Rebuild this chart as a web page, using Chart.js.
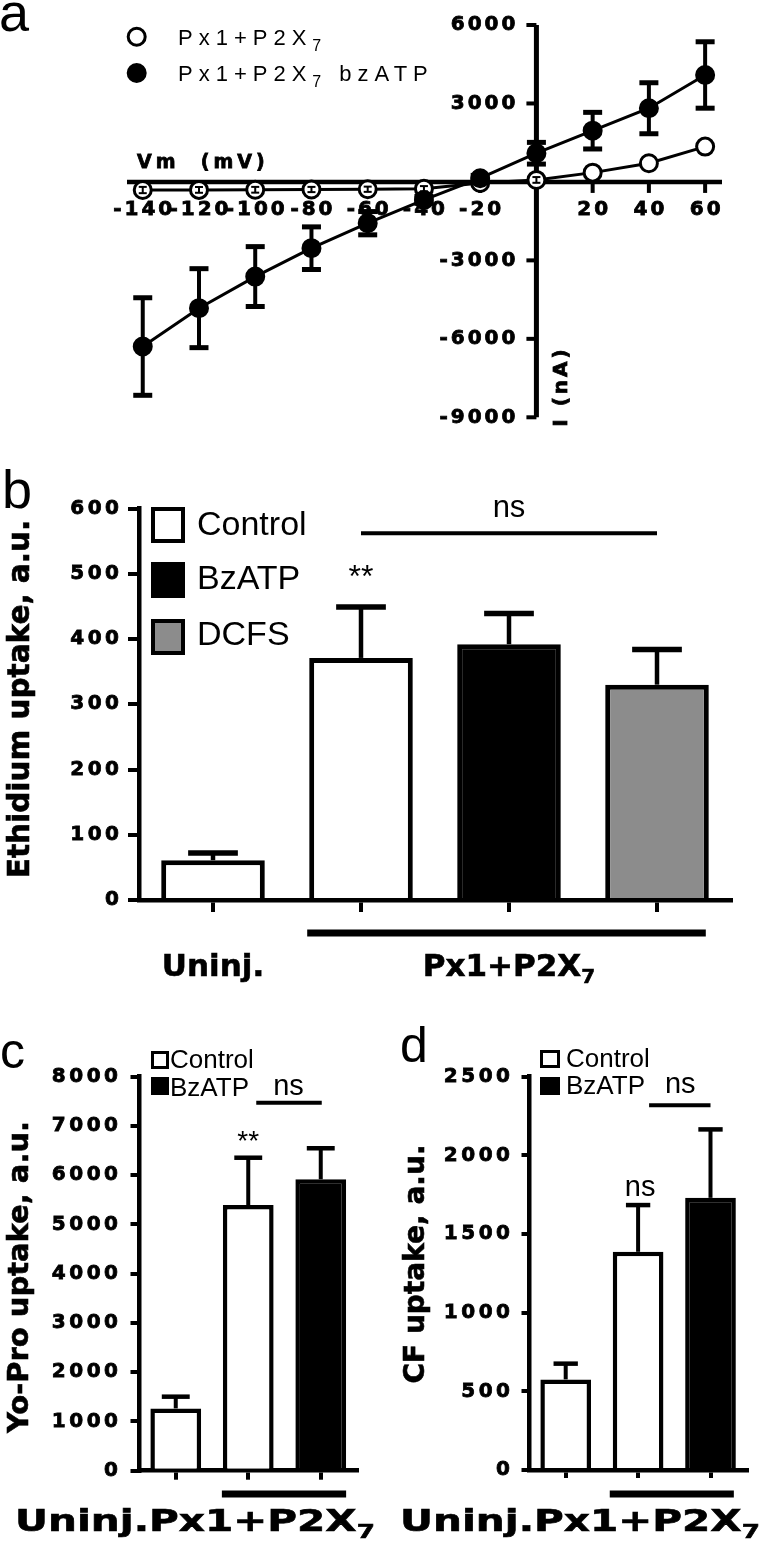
<!DOCTYPE html>
<html>
<head>
<meta charset="utf-8">
<script src="https://cdn.jsdelivr.net/npm/chart.js@4.4.1/dist/chart.umd.min.js"></script>
<style>
html,body{margin:0;padding:0;background:#fff;}
#wrap{position:relative;width:760px;height:1552px;overflow:hidden;background:#fff;}
#wrap canvas{position:absolute;left:0;top:0;width:760px;height:1552px;}
</style>
</head>
<body>
<div id="wrap">
<canvas id="cA" width="760" height="1552"></canvas>
<canvas id="cB" width="760" height="1552"></canvas>
<canvas id="cC" width="760" height="1552"></canvas>
<canvas id="cD" width="760" height="1552"></canvas>
</div>
<script>
// ---------------- Panel a : I-V curves ----------------
const ivVoltage = [-140, -120, -100, -80, -60, -40, -20, 0, 20, 40, 60];
const ivCurrentPx1P2X7 = [-310, -305, -300, -290, -280, -260, -40, 76, 355, 715, 1350];
const ivErrPx1P2X7 = [120, 110, 110, 100, 100, 100, 90, 110, 0, 0, 0];
const ivCurrentBzATP = [-6294, -4827, -3619, -2534, -1578, -688, 141, 1097, 1960, 2817, 4089];
const ivErrBzATP = [1865, 1510, 1145, 815, 445, 130, 110, 415, 700, 975, 1270];
const ivXTickLabels = [-140, -120, -100, -80, -60, -40, -20, 20, 40, 60];
const ivYTickLabels = [6000, 3000, -3000, -6000, -9000];

// ---------------- Panel b : Ethidium uptake ----------------
const ethCategories = ['Uninj.', 'Control', 'BzATP', 'DCFS'];
const ethUptake = [61, 371, 392, 330];
const ethErr = [11, 78, 47, 54];

// ---------------- Panel c : Yo-Pro uptake ----------------
const yoCategories = ['Uninj.', 'Control', 'BzATP'];
const yoUptake = [1265, 5395, 5917];
const yoErr = [238, 960, 630];

// ---------------- Panel d : CF uptake ----------------
const cfCategories = ['Uninj.', 'Control', 'BzATP'];
const cfUptake = [576, 1387, 1730];
const cfErr = [100, 297, 435];

const DJ = '"DejaVu Sans", sans-serif';
const LS = '"Liberation Sans", Arial, sans-serif';
const B20 = 'bold 20px ' + DJ;

// ---------- helpers ----------
function seg(ctx, x1, y1, x2, y2, w) {
  ctx.save();
  ctx.lineWidth = w; ctx.strokeStyle = '#000'; ctx.lineCap = 'butt';
  ctx.beginPath(); ctx.moveTo(x1, y1); ctx.lineTo(x2, y2); ctx.stroke();
  ctx.restore();
}
function txt(ctx, s, x, y, o) {
  o = o || {};
  const sp = o.sp || 0, sx = o.sx || 1;
  ctx.save();
  ctx.font = o.font || ('20px ' + LS);
  ctx.letterSpacing = sp + 'px';
  ctx.fillStyle = o.color || '#000';
  ctx.textBaseline = o.base || 'alphabetic';
  ctx.textAlign = 'left';
  ctx.translate(x, y);
  if (o.rot) ctx.rotate(o.rot);
  ctx.scale(sx, 1);
  const w = ctx.measureText(s).width - sp;
  let dx = 0;
  if (o.align === 'center') dx = -w / 2;
  else if (o.align === 'right') dx = -w;
  ctx.fillText(s, dx, 0);
  if (o.stroke) { ctx.lineWidth = o.stroke; ctx.strokeStyle = '#000'; ctx.strokeText(s, dx, 0); }
  ctx.restore();
  return w * sx;
}
function richText(ctx, parts, x, y, o) {
  o = o || {};
  const sp = o.sp || 0, sx = o.sx || 1;
  ctx.save();
  ctx.letterSpacing = sp + 'px';
  const widths = parts.map(p => { ctx.font = p.font; return ctx.measureText(p.s).width * sx; });
  ctx.restore();
  const total = widths.reduce((a, b) => a + b, 0);
  let cx = o.align === 'center' ? x - total / 2 : x;
  parts.forEach((p, i) => {
    txt(ctx, p.s, cx, y + (p.dy || 0), { font: p.font, sp: sp, sx: sx, stroke: o.stroke });
    cx += widths[i];
  });
}
function box(ctx, x, y, w, h, fill, lw) {
  ctx.save();
  ctx.fillStyle = fill; ctx.strokeStyle = '#000'; ctx.lineWidth = lw;
  ctx.fillRect(x + lw / 2, y + lw / 2, w - lw, h - lw);
  ctx.strokeRect(x + lw / 2, y + lw / 2, w - lw, h - lw);
  ctx.restore();
}
function circle(ctx, x, y, r, fill) {
  ctx.save();
  ctx.beginPath(); ctx.arc(x, y, r, 0, Math.PI * 2);
  ctx.fillStyle = fill; ctx.fill();
  ctx.lineWidth = 3; ctx.strokeStyle = '#000'; ctx.stroke();
  ctx.restore();
}
function errorBars(ctx, meta, yScale, vals, errs, capRatio, stemW, capW) {
  meta.data.forEach((el, i) => {
    const top = yScale.getPixelForValue(vals[i] + errs[i]);
    const half = el.width * capRatio / 2;
    seg(ctx, el.x, el.y, el.x, top, stemW);
    seg(ctx, el.x - half, top, el.x + half, top, capW);
  });
}
const spacing = s => ({ id: 'tickSpacing', beforeDraw(chart) { chart.ctx.letterSpacing = s + 'px'; } });

// ---------- Panel a ----------
const ivDecor = {
  id: 'ivDecor',
  beforeDatasetsDraw(chart) {
    const { ctx, scales: { x, y } } = chart;
    const x0 = x.getPixelForValue(0), y0 = y.getPixelForValue(0);
    seg(ctx, x.left, y0, x.right, y0, 4.5);
    seg(ctx, x0, y.top, x0, y.bottom, 5);
    ivXTickLabels.forEach(v => {
      const px = x.getPixelForValue(v);
      seg(ctx, px, y0, px, y0 + 11, 4);
      txt(ctx, String(v), px, y0 + 33, { font: B20, sp: 3, align: 'center', stroke: 0.8 });
    });
    ivYTickLabels.forEach(v => {
      const py = y.getPixelForValue(v);
      seg(ctx, x0 - 10, py, x0, py, 4);
      txt(ctx, String(v), x0 - 21, py, { font: B20, sp: 3, align: 'right', base: 'middle', stroke: 0.8 });
    });
    txt(ctx, 'Vm  (mV)', x.left + 10, y0 - 14, { font: 'bold 19px ' + DJ, sp: 4, stroke: 0.8 });
    txt(ctx, 'I (nA)', x0 + 31, 388, { font: B20, sp: 3, align: 'center', rot: -Math.PI / 2, stroke: 0.8 });
    // error bars of the bzATP series (behind points)
    ivVoltage.forEach((v, i) => {
      const px = x.getPixelForValue(v);
      const hi = y.getPixelForValue(ivCurrentBzATP[i] + ivErrBzATP[i]);
      const lo = y.getPixelForValue(ivCurrentBzATP[i] - ivErrBzATP[i]);
      seg(ctx, px, hi, px, lo, 4);
      seg(ctx, px - 9.5, hi, px + 9.5, hi, 5);
      seg(ctx, px - 9.5, lo, px + 9.5, lo, 5);
    });
  },
  afterDatasetsDraw(chart) {
    const { ctx, scales: { x, y } } = chart;
    ivVoltage.forEach((v, i) => {
      if (!ivErrPx1P2X7[i]) return;
      const px = x.getPixelForValue(v);
      const hi = y.getPixelForValue(ivCurrentPx1P2X7[i] + ivErrPx1P2X7[i]);
      const lo = y.getPixelForValue(ivCurrentPx1P2X7[i] - ivErrPx1P2X7[i]);
      seg(ctx, px, hi, px, lo, 2);
      seg(ctx, px - 4, hi, px + 4, hi, 2);
      seg(ctx, px - 4, lo, px + 4, lo, 2);
    });
    // legend
    circle(ctx, 136.7, 36.7, 8.5, '#fff');
    circle(ctx, 136.7, 73, 8.5, '#000');
    const f22 = '22px ' + LS, f16 = '16px ' + LS;
    richText(ctx, [{ s: 'Px1+P2X', font: f22 }, { s: '7', font: f16, dy: 6 }], 178, 45, { sp: 6 });
    richText(ctx, [{ s: 'Px1+P2X', font: f22 }, { s: '7', font: f16, dy: 6 }, { s: ' bzATP', font: f22 }], 178, 81.3, { sp: 6 });
    txt(ctx, 'a', -1, 31, { font: '54px ' + LS });
  }
};
new Chart(document.getElementById('cA'), {
  type: 'line',
  data: {
    datasets: [
      { label: 'Px1+P2X7', data: ivVoltage.map((v, i) => ({ x: v, y: ivCurrentPx1P2X7[i] })),
        borderColor: '#000', borderWidth: 3, pointRadius: 8.5, pointBorderWidth: 3,
        pointBackgroundColor: '#fff', pointBorderColor: '#000', order: 1, clip: false },
      { label: 'Px1+P2X7 bzATP', data: ivVoltage.map((v, i) => ({ x: v, y: ivCurrentBzATP[i] })),
        borderColor: '#000', borderWidth: 3, pointRadius: 8.5, pointBorderWidth: 3,
        pointBackgroundColor: '#000', pointBorderColor: '#000', order: 0, clip: false }
    ]
  },
  options: {
    responsive: false, animation: false, events: [],
    layout: { autoPadding: false, padding: { left: 127, right: 38, top: 25, bottom: 1552 - 417.3 } },
    scales: {
      x: { type: 'linear', min: -145.6, max: 66, display: false },
      y: { type: 'linear', min: -9000, max: 6000, display: false }
    },
    plugins: { legend: { display: false }, tooltip: { enabled: false } }
  },
  plugins: [ivDecor]
});

// ---------- bar chart builder ----------
const Y_AXIS_W = 110;
function barChart(id, labels, values, colors, c) {
  return new Chart(document.getElementById(id), {
    type: 'bar',
    data: {
      labels: labels,
      datasets: [{ data: values, backgroundColor: colors, borderColor: '#000', borderWidth: c.bw,
        borderSkipped: 'start', barPercentage: 0.7, categoryPercentage: 1 }]
    },
    options: {
      responsive: false, animation: false, events: [],
      layout: { autoPadding: false, padding: c.padding },
      scales: {
        x: {
          offset: true, z: 1,
          ticks: { display: false },
          grid: { offset: false, drawOnChartArea: false, drawTicks: true, tickLength: c.xTick, lineWidth: 4, color: '#000' },
          border: { display: true, width: 4.5, color: '#000' },
          afterFit(s) { s.height = 12; }
        },
        y: {
          min: 0, max: c.max,
          ticks: { stepSize: c.step, autoSkip: false, color: '#000', padding: c.yPad,
            callback: v => String(v),
            textStrokeColor: '#000', textStrokeWidth: 0.8,
            font: { family: DJ, weight: 'bold', size: 20 } },
          grid: { drawOnChartArea: false, drawTicks: true, tickLength: c.yTick, lineWidth: 4, color: '#000' },
          border: { display: true, width: 4.5, color: '#000' },
          afterFit(s) { s.width = Y_AXIS_W; }
        }
      },
      plugins: { legend: { display: false }, tooltip: { enabled: false } }
    },
    plugins: [spacing(3.5), c.decor]
  });
}

// ---------- Panel b ----------
const ethDecor = {
  id: 'ethDecor',
  afterDraw(chart) {
    const { ctx, scales: { x, y } } = chart;
    const meta = chart.getDatasetMeta(0);
    errorBars(ctx, meta, y, ethUptake, ethErr, 0.48, 4.5, 5.5);
    box(ctx, 151, 507, 34, 36, '#fff', 4);
    box(ctx, 151, 562, 34, 36, '#000', 4);
    box(ctx, 151, 619, 34, 36, '#8c8c8c', 4);
    const f34 = '34px ' + LS;
    txt(ctx, 'Control', 197, 535, { font: f34 });
    txt(ctx, 'BzATP', 197, 589, { font: f34 });
    txt(ctx, 'DCFS', 197, 645, { font: f34 });
    const c1 = x.getPixelForValue(1), c2 = x.getPixelForValue(2), c3 = x.getPixelForValue(3);
    const nsY = y.getPixelForValue(562);
    seg(ctx, c1, nsY, c3, nsY, 4);
    txt(ctx, 'ns', c2, nsY - 16, { font: '31px ' + LS, align: 'center' });
    txt(ctx, '**', c1, 587, { font: '32px ' + LS, align: 'center' });
    const b1 = meta.data[1], b3 = meta.data[3];
    seg(ctx, b1.x - b1.width / 2 - 2, 933, b3.x + b3.width / 2 - 3, 933, 7);
    txt(ctx, ethCategories[0], x.getPixelForValue(0), 976, { font: 'bold 31px ' + DJ, align: 'center', stroke: 0.6 });
    richText(ctx, [{ s: 'Px1+P2X', font: 'bold 31px ' + DJ }, { s: '7', font: 'bold 20px ' + DJ, dy: 7 }], (c1 + c3) / 2, 976, { align: 'center', stroke: 0.6 });
    txt(ctx, 'Ethidium uptake, a.u.', 29, 699, { font: 'bold 29.5px ' + DJ, align: 'center', rot: -Math.PI / 2, stroke: 0.6 });
    txt(ctx, 'b', 2, 508, { font: '54px ' + LS });
  }
};
barChart('cB', ethCategories, ethUptake, ['#fff', '#fff', '#000', '#8c8c8c'], {
  bw: 5, max: 600, step: 100, xTick: 12, yTick: 11, yPad: 5.5,
  padding: { left: 139 - Y_AXIS_W, right: 29, top: 508.5, bottom: 1552 - 900 - 12 },
  decor: ethDecor
});

// ---------- Panel c ----------
const yoDecor = {
  id: 'yoDecor',
  afterDraw(chart) {
    const { ctx, scales: { x, y } } = chart;
    const meta = chart.getDatasetMeta(0);
    errorBars(ctx, meta, y, yoUptake, yoErr, 0.55, 4, 4.5);
    box(ctx, 151, 1051, 18, 18, '#fff', 3);
    box(ctx, 151, 1077, 18, 18, '#000', 3);
    txt(ctx, 'Control', 170, 1068, { font: '26px ' + LS });
    txt(ctx, 'BzATP', 170, 1096, { font: '26px ' + LS });
    const c1 = x.getPixelForValue(1), c2 = x.getPixelForValue(2);
    const nsY = y.getPixelForValue(7470);
    seg(ctx, c1 + 8, nsY, c2 + 1, nsY, 4);
    txt(ctx, 'ns', (c1 + c2) / 2 + 4, 1095, { font: '29px ' + LS, align: 'center' });
    txt(ctx, '**', c1, 1150, { font: '28px ' + LS, align: 'center' });
    const b1 = meta.data[1], b2 = meta.data[2];
    seg(ctx, b1.x - b1.width / 2 - 1, 1494, b2.x + b2.width / 2, 1494, 7);
    richText(ctx, [{ s: 'Uninj.Px1+P2X', font: 'bold 31px ' + DJ }, { s: '7', font: 'bold 20px ' + DJ, dy: 7 }], 15, 1531, { sx: 1.31, stroke: 0.6 });
    txt(ctx, 'Yo-Pro uptake, a.u.', 28.4, 1277, { font: 'bold 29px ' + DJ, align: 'center', rot: -Math.PI / 2, stroke: 0.6 });
    txt(ctx, 'c', 0, 1068, { font: '50px ' + LS });
  }
};
barChart('cC', yoCategories, yoUptake, ['#fff', '#fff', '#000'], {
  bw: 4.5, max: 8000, step: 1000, xTick: 9, yTick: 9, yPad: 9,
  padding: { left: 139.5 - Y_AXIS_W, right: 760 - 357, top: 1076.7, bottom: 1552 - 1470.7 - 12 },
  decor: yoDecor
});

// ---------- Panel d ----------
const cfDecor = {
  id: 'cfDecor',
  afterDraw(chart) {
    const { ctx, scales: { x, y } } = chart;
    const meta = chart.getDatasetMeta(0);
    errorBars(ctx, meta, y, cfUptake, cfErr, 0.48, 4, 4.5);
    box(ctx, 540, 1050, 20, 18, '#fff', 3);
    box(ctx, 540, 1077, 20, 18, '#000', 3);
    txt(ctx, 'Control', 566, 1067, { font: '26px ' + LS });
    txt(ctx, 'BzATP', 566, 1094, { font: '26px ' + LS });
    const c1 = x.getPixelForValue(1), c2 = x.getPixelForValue(2);
    const nsY = y.getPixelForValue(2319);
    seg(ctx, c1 + 11, nsY, c2, nsY, 4);
    txt(ctx, 'ns', (c1 + c2) / 2 + 6, 1093, { font: '29px ' + LS, align: 'center' });
    txt(ctx, 'ns', c1 + 2, 1196, { font: '29px ' + LS, align: 'center' });
    const b1 = meta.data[1], b2 = meta.data[2];
    seg(ctx, b1.x - b1.width / 2 - 3, 1494, b2.x + b2.width / 2 - 2, 1494, 7);
    richText(ctx, [{ s: 'Uninj.Px1+P2X', font: 'bold 31px ' + DJ }, { s: '7', font: 'bold 20px ' + DJ, dy: 7 }], 400, 1531, { sx: 1.31, stroke: 0.6 });
    txt(ctx, 'CF uptake, a.u.', 423.5, 1264, { font: 'bold 28px ' + DJ, align: 'center', rot: -Math.PI / 2, stroke: 0.6 });
    txt(ctx, 'd', 400, 1062, { font: '50px ' + LS });
  }
};
barChart('cD', cfCategories, cfUptake, ['#fff', '#fff', '#000'], {
  bw: 4.5, max: 2500, step: 500, xTick: 8, yTick: 8, yPad: 8,
  padding: { left: 529.5 - Y_AXIS_W, right: 13.3, top: 1076.7, bottom: 1552 - 1470 - 12 },
  decor: cfDecor
});
</script>
</body>
</html>
